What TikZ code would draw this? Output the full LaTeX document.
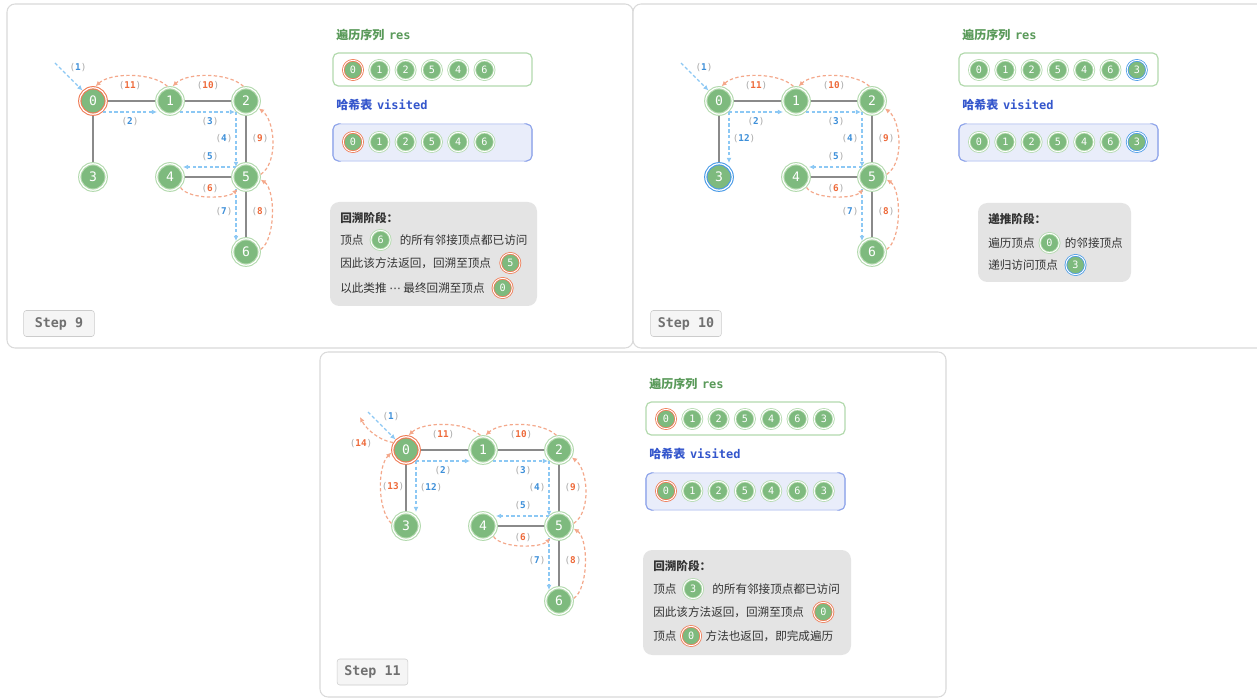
\documentclass[tikz,border=0pt]{standalone}
\usepackage{fontspec}
\setmonofont{DejaVu Sans Mono}
\newfontfamily\cjk{Noto Sans CJK SC}
\newfontfamily\symf{DejaVu Sans}
\usetikzlibrary{positioning,arrows.meta}

\definecolor{nodegreen}{HTML}{7EBA7E}
\definecolor{ringgreen}{HTML}{B3DAAE}
\definecolor{ringorange}{HTML}{EF7B55}
\definecolor{ringblue}{HTML}{4A9BE8}
\definecolor{edgegray}{HTML}{8A8A8A}
\definecolor{fwdblue}{HTML}{8CC8F4}
\definecolor{fwdtext}{HTML}{3D8FD9}
\definecolor{bwdorange}{HTML}{F4A88B}
\definecolor{bwdtext}{HTML}{EE6A3A}
\definecolor{parengray}{HTML}{A8A8A8}
\definecolor{resgreen}{HTML}{5A9A5A}
\definecolor{visblue}{HTML}{3456CC}
\definecolor{visfill}{HTML}{E9EDFA}
\definecolor{visline}{HTML}{8FA5EA}
\definecolor{notefill}{HTML}{E4E4E4}
\definecolor{notetext}{HTML}{333333}
\definecolor{panelline}{HTML}{DADADA}
\definecolor{stepfill}{HTML}{F5F5F5}
\definecolor{stepline}{HTML}{CCCCCC}
\definecolor{steptext}{HTML}{707070}

\newcommand{\fwdlbl}[1]{{\color{parengray}(}{\color{fwdtext}\bfseries#1}{\color{parengray})}}
\newcommand{\bwdlbl}[1]{{\color{parengray}(}{\color{bwdtext}\bfseries#1}{\color{parengray})}}

\tikzset{
  vtx/.style={circle, fill=nodegreen, draw=#1, double=white, double distance=0.9pt,
    line width=0.8pt, minimum size=19.8pt, inner sep=0pt, outer sep=1.3pt, text=white,
    font=\ttfamily\fontsize{9.8}{9.8}\selectfont},
  vtx/.default=ringgreen,
  item/.style={vtx=#1, minimum size=14.5pt, line width=0.6pt, double distance=0.7pt,
    outer sep=1pt, font=\ttfamily\fontsize{7.6}{7.6}\selectfont},
  item/.default=ringgreen,
  edge/.style={draw=edgegray, line width=1.1pt},
  fwd/.style={draw=fwdblue, line width=0.9pt, dash pattern=on 2.5pt off 1.8pt,
    -{Latex[length=3.8pt,width=3.6pt]}},
  bwd/.style={fwd, draw=bwdorange},
  lbl/.style={inner sep=0pt, font=\ttfamily\fontsize{7}{7}\selectfont},
  title/.style={anchor=west, inner sep=0pt, font=\cjk\bfseries\fontsize{9}{10}\selectfont},
  note/.style={inner sep=0pt, text=notetext, font=\cjk\fontsize{8.7}{10}\selectfont},
  notehead/.style={note, anchor=west, font=\cjk\bfseries\fontsize{8.7}{10}\selectfont},
  panel/.style={draw=panelline, line width=0.8pt, rounded corners=6pt, fill=white},
  resbox/.style={draw=ringgreen, line width=0.9pt, rounded corners=4pt, fill=white},
  visbox/.style={draw=visline!45, line width=0.8pt, rounded corners=4pt, fill=visfill},
  notebox/.style={fill=notefill, rounded corners=7pt},
  stepbox/.style={draw=stepline, fill=stepfill, rounded corners=2pt, text=steptext,
    minimum width=53pt, minimum height=19.5pt, font=\ttfamily\bfseries\fontsize{10}{10}\selectfont}
}

\newcommand{\dfsgraph}[2]{%
  \node[vtx=#1] (n0) at (93,101) {0};
  \node[vtx] (n1) at (170,101) {1};
  \node[vtx] (n2) at (246,101) {2};
  \node[vtx=#2] (n3) at (93,177) {3};
  \node[vtx] (n4) at (170,177) {4};
  \node[vtx] (n5) at (246,177) {5};
  \node[vtx] (n6) at (246,252) {6};
  \foreach \a/\b in {n0/n1,n1/n2,n0/n3,n2/n5,n4/n5,n5/n6}
    \draw[edge] (\a) -- (\b);
  \coordinate (s) at (55,63);
  \draw[fwd] (s) -- (n0);
  \draw[fwd] ([shift={(10,11)}]n0.center) -- ([shift={(-13,11)}]n1.center);
  \draw[fwd] ([shift={(10,11)}]n1.center) -- ([shift={(-11,11)}]n2.center);
  \draw[fwd] ([shift={(-10,11)}]n2.center) -- ([shift={(-10,-10)}]n5.center);
  \draw[fwd] ([shift={(-10,-10)}]n5.center) -- ([shift={(13,-10)}]n4.center);
  \draw[fwd] ([shift={(-10,12)}]n5.center) -- ([shift={(-10,-11)}]n6.center);
  \draw[bwd] (n4.-45) .. controls +(8,12) and +(-10,10) .. (n5.-125);
  \draw[bwd] (n6.10) .. controls +(15,-10) and +(15,10) .. (n5.-10);
  \draw[bwd] (n5.10) .. controls +(18,-12) and +(16,12) .. (n2.-30);
  \draw[bwd] (n2.100) .. controls +(-15,-14) and +(15,-14) .. (n1.80);
  \draw[bwd] (n1.100) .. controls +(-15,-14) and +(15,-14) .. (n0.80);
  \node[lbl] (k1) at (78,68) {\fwdlbl{1}};
  \node[lbl] (k2) at (130,122) {\fwdlbl{2}};
  \node[lbl] (k3) at (210,122) {\fwdlbl{3}};
  \node[lbl] (k4) at (224,139) {\fwdlbl{4}};
  \node[lbl] (k5) at (210,157) {\fwdlbl{5}};
  \node[lbl] (k6) at (210,189) {\bwdlbl{6}};
  \node[lbl] (k7) at (224,212) {\fwdlbl{7}};
  \node[lbl] (k8) at (260,212) {\bwdlbl{8}};
  \node[lbl] (k9) at (260,139) {\bwdlbl{9}};
  \node[lbl] (k10) at (208,86) {\bwdlbl{10}};
  \node[lbl] (k11) at (130,86) {\bwdlbl{11}};
}

\newcommand{\seqrow}[3]{%
  \foreach \v/\c [count=\i] in {#3}
    \node[item=\c] (#1\i) at ({353+26.3*(\i-1)},#2) {\v};
}

\newcommand{\seqboxes}[2]{%
  \node[title, text=resgreen] (rt) at (336,35) {遍历序列\, {\ttfamily res}};
  \draw[resbox] (333,53) rectangle (532,86);
  \seqrow{r}{70}{#1}
  \node[title, text=visblue] (vt) at (336,105) {哈希表\, {\ttfamily visited}};
  \draw[visbox] (333,124) rectangle (532,161);
  \draw[visline, line width=0.8pt, rounded corners=4pt] (338,124) -- (333,124) -- (333,161) -- (338,161);
  \draw[visline, line width=0.8pt, rounded corners=4pt] (527,124) -- (532,124) -- (532,161) -- (527,161);
  \seqrow{v}{142}{#2}
}

\begin{document}
\begin{tikzpicture}[x=0.75pt, y=-0.75pt]
\useasboundingbox[fill=white] (0,0) rectangle (1257,698);

\begin{scope}[name prefix=a-]
  \draw[panel] (7,4) rectangle (633,348);
  \dfsgraph{ringorange}{ringgreen}
  \seqboxes{0/ringorange,1/ringgreen,2/ringgreen,5/ringgreen,4/ringgreen,6/ringgreen}
           {0/ringorange,1/ringgreen,2/ringgreen,5/ringgreen,4/ringgreen,6/ringgreen}
  \fill[notebox] (330,202) rectangle (537,306);
  \node[notehead] (h) at (340,218) {回溯阶段：};
  \node[note, anchor=west] (l1) at (340,240) {顶点};
  \node[item, right=4.4pt of l1] (l1c) {6};
  \node[note, right=6pt of l1c] (l1b) {的所有邻接顶点都已访问};
  \node[note, anchor=west] (l2) at (340,263) {因此该方法返回，回溯至顶点};
  \node[item=ringorange, right=6pt of l2] (l2c) {5};
  \node[note, anchor=west] (l3) at (340,288) {以此类推 {\symf ⋯} 最终回溯至顶点};
  \node[item=ringorange, right=5pt of l3] (l3c) {0};
  \node[stepbox] (st) at (59,323.5) {Step 9};
\end{scope}

\begin{scope}[shift={(626,0)}, name prefix=b-]
  \draw[panel] (7,4) rectangle (640,348);
  \dfsgraph{ringgreen}{ringblue}
  \draw[fwd] ([shift={(10,11)}]n0.center) -- ([shift={(10,-14)}]n3.center);
  \node[lbl] (k12) at (118,139) {\fwdlbl{12}};
  \seqboxes{0/ringgreen,1/ringgreen,2/ringgreen,5/ringgreen,4/ringgreen,6/ringgreen,3/ringblue}
           {0/ringgreen,1/ringgreen,2/ringgreen,5/ringgreen,4/ringgreen,6/ringgreen,3/ringblue}
  \fill[notebox] (352,203) rectangle (505,282);
  \node[notehead] (h) at (362,219) {递推阶段：};
  \node[note, anchor=west] (l1) at (362,243) {遍历顶点};
  \node[item, right=2.7pt of l1] (l1c) {0};
  \node[note, right=3pt of l1c] (l1b) {的邻接顶点};
  \node[note, anchor=west] (l2) at (362,265) {递归访问顶点};
  \node[item=ringblue, right=4.8pt of l2] (l2c) {3};
  \node[stepbox] (st) at (60,323.5) {Step 10};
\end{scope}

\begin{scope}[shift={(313,349)}, name prefix=c-]
  \draw[panel] (7,3) rectangle (633,348);
  \dfsgraph{ringorange}{ringgreen}
  \draw[fwd] ([shift={(10,11)}]n0.center) -- ([shift={(10,-14)}]n3.center);
  \coordinate (e) at (47,68);
  \draw[bwd] (n3.170) .. controls +(-14,-14) and +(-14,14) .. (n0.190);
  \draw[bwd] (n0.150) .. controls +(-14,-2) and +(6,12) .. (e);
  \node[lbl] (k12) at (118,139) {\fwdlbl{12}};
  \node[lbl] (k13) at (80,138) {\bwdlbl{13}};
  \node[lbl] (k14) at (48,95) {\bwdlbl{14}};
  \seqboxes{0/ringorange,1/ringgreen,2/ringgreen,5/ringgreen,4/ringgreen,6/ringgreen,3/ringgreen}
           {0/ringorange,1/ringgreen,2/ringgreen,5/ringgreen,4/ringgreen,6/ringgreen,3/ringgreen}
  \fill[notebox] (330,201) rectangle (538,306);
  \node[notehead] (h) at (340,217) {回溯阶段：};
  \node[note, anchor=west] (l1) at (340,240) {顶点};
  \node[item, right=4pt of l1] (l1c) {3};
  \node[note, right=6pt of l1c] (l1b) {的所有邻接顶点都已访问};
  \node[note, anchor=west] (l2) at (340,263) {因此该方法返回，回溯至顶点};
  \node[item=ringorange, right=6pt of l2] (l2c) {0};
  \node[note, anchor=west] (l3) at (340,287) {顶点};
  \node[item=ringorange, right=2.5pt of l3] (l3c) {0};
  \node[note, right=2.5pt of l3c] (l3b) {方法也返回，即完成遍历};
  \node[stepbox] (st) at (59.5,323) {Step 11};
\end{scope}
\end{tikzpicture}
\end{document}
